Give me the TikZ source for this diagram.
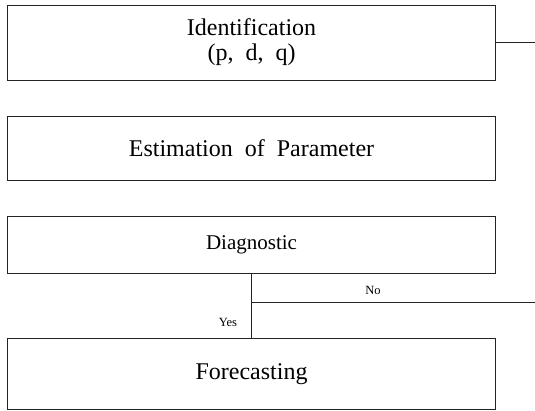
\documentclass[tikz,border=0pt]{standalone}
\usepackage{fontspec}
\setmainfont{Liberation Serif}
\usetikzlibrary{positioning}
\definecolor{fcedge}{RGB}{35,35,35}
\tikzset{
  fcbox/.style={
    draw=fcedge, line width=0.8pt, align=center, outer sep=0pt,
    minimum width=487.6pt, inner sep=2pt
  },
  link/.style={draw=fcedge, line width=0.8pt},
  tag/.style={font=\fontsize{12.5}{14}\selectfont, inner sep=1pt}
}

\begin{document}
\begin{tikzpicture}[x=1pt, y=1pt, node distance=36pt]
  \useasboundingbox (0,0) rectangle (535,411);
  \node[fcbox, minimum height=75pt, font=\fontsize{24}{25}\selectfont] (ident)
    at (251.5,368.5) {Identification\\(p,\ \ d,\ \ q)};
  \node[fcbox, minimum height=64.7pt, font=\fontsize{24}{26}\selectfont,
    below=of ident] (estim) {Estimation\ \ of\ \ Parameter};
  \node[fcbox, minimum height=56.6pt, font=\fontsize{21}{24}\selectfont,
    below=of estim] (diag) {Diagnostic};
  \node[fcbox, minimum height=71.3pt, font=\fontsize{24}{28}\selectfont,
    below=64.7pt of diag] (fore) {Forecasting};
  % loop back ends
  \coordinate (identout) at (535,368.5);
  \coordinate (noout) at (535,109);
  \draw[link] (ident.east) -- (identout);
  \draw[link] (diag.south) -- (fore.north);
  \draw[link] (diag.south |- noout) -- (noout);
  \node[tag] (no) at (373,121) {No};
  \node[tag] (yes) at (228,88.5) {Yes};
\end{tikzpicture}
\end{document}
